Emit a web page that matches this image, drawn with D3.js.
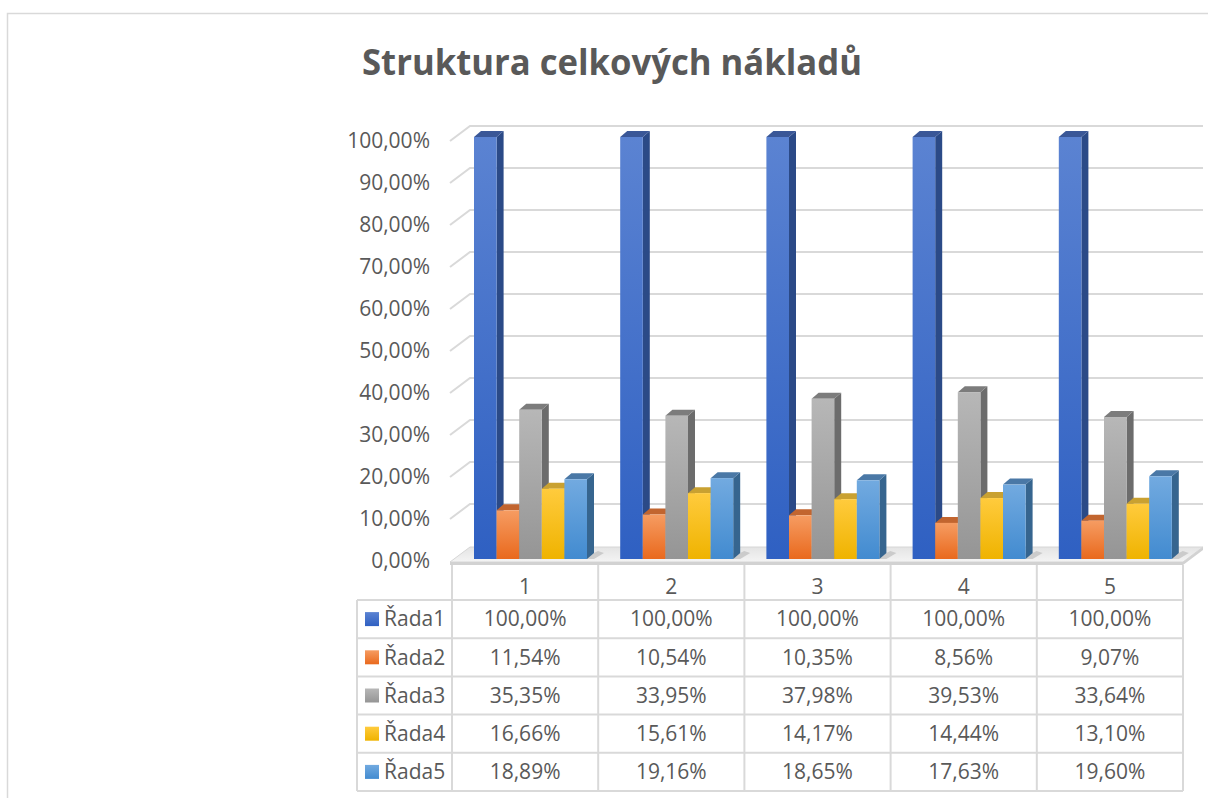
<!DOCTYPE html>
<html>
<head>
<meta charset="utf-8">
<script src="https://cdn.jsdelivr.net/npm/d3@7"></script>
<style>
  body { margin: 0; background: #fff; }
  svg { display: block; font-family: "Open Sans", sans-serif; }
</style>
</head>
<body>
<svg id="chart" width="1208" height="798"></svg>
<script>
// data
const categories = ["1", "2", "3", "4", "5"];
const seriesNames = ["Řada1", "Řada2", "Řada3", "Řada4", "Řada5"];
const rada1 = [100, 100, 100, 100, 100];
const rada2 = [11.54, 10.54, 10.35, 8.56, 9.07];
const rada3 = [35.35, 33.95, 37.98, 39.53, 33.64];
const rada4 = [16.66, 15.61, 14.17, 14.44, 13.10];
const rada5 = [18.89, 19.16, 18.65, 17.63, 19.60];
const yTicks = [0, 10, 20, 30, 40, 50, 60, 70, 80, 90, 100];
const seriesValues = [rada1, rada2, rada3, rada4, rada5];

// face colours: [front top, front bottom, side, top]
const faceColors = [
  ["#5b83d2", "#2f60c2", "#2b4a87", "#3a5797"],
  ["#f69c62", "#e9691d", "#b9561d", "#c2652f"],
  ["#b7b7b7", "#959595", "#6c6c6c", "#7c7c7c"],
  ["#ffcb3d", "#efb300", "#bf8e00", "#c9a131"],
  ["#72aae0", "#428bd0", "#36658f", "#4a78a6"]
];

const svg = d3.select("#chart");
const textColor = "#595959";
const lineColor = "#d9d9d9";

// geometry
const plotLeft = 452, plotRight = 1183;
const depthX = 20, depthY = -15;
const barDX = 7, barDY = -6;
const floorFront = 562;
const headerBottom = 600, rowH = 38.2;
const tableLeft = 357;

const x = d3.scaleBand().domain(categories).range([plotLeft, plotRight]);
const sx = d3.scaleBand().domain(seriesNames).range([22, 135]);
const yFront = d3.scaleLinear().domain([0, 100]).range([561, 141]);
const yBar = d3.scaleLinear().domain([0, 100]).range([559, 137]);

// gradients
const defs = svg.append("defs");
faceColors.forEach((c, i) => {
  const g = defs.append("linearGradient").attr("id", "g" + i)
    .attr("x1", 0).attr("y1", 0).attr("x2", 0).attr("y2", 1);
  g.append("stop").attr("offset", "0%").attr("stop-color", c[0]);
  g.append("stop").attr("offset", "100%").attr("stop-color", c[1]);
});
const fg = defs.append("linearGradient").attr("id", "floorG")
  .attr("x1", 0).attr("y1", 0).attr("x2", 0).attr("y2", 1);
fg.append("stop").attr("offset", "0%").attr("stop-color", "#e4e4e4");
fg.append("stop").attr("offset", "100%").attr("stop-color", "#f4f4f4");

// chart border
svg.append("path")
  .attr("d", "M7.5,798 L7.5,13.5 L1208,13.5")
  .attr("fill", "none").attr("stroke", lineColor).attr("stroke-width", 1.5);

// title
svg.append("text")
  .attr("x", 612).attr("y", 75)
  .attr("text-anchor", "middle")
  .attr("font-size", 36).attr("font-weight", "bold")
  .attr("fill", textColor)
  .attr("textLength", 500).attr("lengthAdjust", "spacingAndGlyphs")
  .text("Struktura celkových nákladů");

// gridlines (side wall diagonal + back wall)
svg.append("g").selectAll("path")
  .data(yTicks.filter(d => d > 0))
  .join("path")
  .attr("d", d => `M${plotLeft - 2},${yFront(d)} L${plotLeft - 2 + depthX},${yFront(d) + depthY} L${plotRight + depthX},${yFront(d) + depthY}`)
  .attr("fill", "none").attr("stroke", lineColor).attr("stroke-width", 2);

// y axis labels
const yAxis = d3.axisLeft(yFront)
  .tickValues(yTicks)
  .tickSize(0)
  .tickPadding(20)
  .tickFormat(d => d3.format(".2f")(d).replace(".", ",") + "%");
const ya = svg.append("g").attr("transform", `translate(${plotLeft - 2},0)`).call(yAxis);
ya.select(".domain").remove();
ya.selectAll("text").attr("font-size", 21).attr("fill", textColor)
  .attr("font-family", "Open Sans, sans-serif");

// floor
const fl = plotLeft - 2;
svg.append("path")
  .attr("d", `M${fl},${floorFront} L${fl + depthX},${floorFront + depthY} L${plotRight + depthX},${floorFront + depthY} L${plotRight},${floorFront} Z`)
  .attr("fill", "url(#floorG)").attr("stroke", "#d6d6d6").attr("stroke-width", 1);
svg.append("path")
  .attr("d", `M${fl},${floorFront} L${plotRight},${floorFront} L${plotRight + depthX},${floorFront + depthY} L${plotRight + depthX},${floorFront + depthY + 3} L${plotRight},${floorFront + 3} L${fl},${floorFront + 3} Z`)
  .attr("fill", "#d2d2d2");

// bars
const bars = [];
categories.forEach((c, ci) => {
  seriesNames.forEach((s, si) => {
    bars.push({ cat: c, series: s, si: si, value: seriesValues[si][ci] });
  });
});

// soft shadow under each cluster
svg.append("g").selectAll("path")
  .data(categories)
  .join("path")
  .attr("d", c => {
    const x0 = x(c) + sx.range()[0], x1 = x(c) + sx.range()[1] + barDX;
    const yb = yBar(0);
    return `M${x0},${yb} L${x1},${yb} L${x1 + 10},${yb - 6} L${x1 + 4},${yb - 8} L${x1},${yb + barDY} Z`;
  })
  .attr("fill", "#bdbdbd").attr("opacity", 0.7);

const bg = svg.append("g").selectAll("g")
  .data(bars)
  .join("g");

bg.each(function (d) {
  const g = d3.select(this);
  const x0 = x(d.cat) + sx(d.series);
  const w = sx.bandwidth();
  const yt = yBar(d.value), yb = yBar(0);
  const col = faceColors[d.si];
  g.append("path")
    .attr("d", `M${x0 + w},${yt} L${x0 + w + barDX},${yt + barDY} L${x0 + w + barDX},${yb + barDY} L${x0 + w},${yb} Z`)
    .attr("fill", col[2]);
  g.append("path")
    .attr("d", `M${x0},${yt} L${x0 + barDX},${yt + barDY} L${x0 + w + barDX},${yt + barDY} L${x0 + w},${yt} Z`)
    .attr("fill", col[3]);
  g.append("rect")
    .attr("x", x0).attr("y", yt)
    .attr("width", w).attr("height", yb - yt)
    .attr("fill", `url(#g${d.si})`);
});

// data table
const table = svg.append("g");
const colEdges = d3.range(categories.length + 1).map(i => plotLeft + i * x.step());
table.selectAll("line.v")
  .data(colEdges)
  .join("line")
  .attr("x1", d => d).attr("x2", d => d)
  .attr("y1", floorFront + 3).attr("y2", headerBottom + rowH * seriesNames.length)
  .attr("stroke", lineColor).attr("stroke-width", 2);
table.append("line")
  .attr("x1", tableLeft).attr("x2", tableLeft)
  .attr("y1", headerBottom).attr("y2", headerBottom + rowH * seriesNames.length)
  .attr("stroke", lineColor).attr("stroke-width", 2);
table.selectAll("line.h")
  .data(d3.range(seriesNames.length + 1))
  .join("line")
  .attr("x1", tableLeft).attr("x2", plotRight)
  .attr("y1", d => headerBottom + d * rowH).attr("y2", d => headerBottom + d * rowH)
  .attr("stroke", lineColor).attr("stroke-width", 2);

// category header
table.selectAll("text.cat")
  .data(categories)
  .join("text")
  .attr("x", d => x(d) + x.bandwidth() / 2)
  .attr("y", 587)
  .attr("dy", "0.35em")
  .attr("text-anchor", "middle")
  .attr("font-size", 21).attr("fill", textColor)
  .text(d => d);

// rows
const fmt = v => d3.format(".2f")(v).replace(".", ",") + "%";
seriesNames.forEach((s, si) => {
  const cy = headerBottom + si * rowH + rowH / 2;
  table.append("rect")
    .attr("x", 365).attr("y", cy - 7).attr("width", 14).attr("height", 14)
    .attr("fill", `url(#g${si})`);
  table.append("text")
    .attr("x", 384).attr("y", cy).attr("dy", "0.35em")
    .attr("font-size", 21).attr("fill", textColor)
    .text(s);
  table.selectAll(null)
    .data(seriesValues[si])
    .join("text")
    .attr("x", (d, ci) => x(categories[ci]) + x.bandwidth() / 2)
    .attr("y", cy).attr("dy", "0.35em")
    .attr("text-anchor", "middle")
    .attr("font-size", 21).attr("fill", textColor)
    .text(d => fmt(d));
});
</script>
</body>
</html>
